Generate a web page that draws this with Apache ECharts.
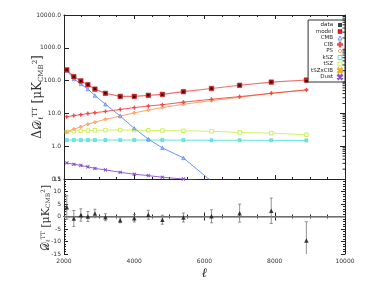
<!DOCTYPE html>
<html><head><meta charset="utf-8">
<script src="https://cdn.jsdelivr.net/npm/echarts@6/dist/echarts.min.js"></script>
<style>html,body{margin:0;padding:0;background:#fff}#c{width:374px;height:299px}</style>
</head><body><div id="c"></div>
<script>
var ell = [2080,2280,2480,2680,2880,3180,3600,4000,4400,4800,5400,6200,7000,7900,8900];
var dataVals = [214,130,97,75,56,41,32,32,36,37,45.5,57,71,90,96];
var model = [212,132,98,75,55,41,33,33,35.5,38,46,57.5,72,90,104];
var cmb = [205,112,79,55,35,19,8.3,3.5,1.65,0.89,0.44,0.085,0.02,0.005,0.0012];
var cib = [7.9,8.6,9.1,9.9,10.5,11.5,13.2,15,16.8,18.4,22,27,32.5,41,52];
var ps = [2.7,3.3,3.9,4.7,5.4,6.6,8.3,10.4,12.6,15,19,24.5,31,41,52];
var ksz = [1.54,1.54,1.54,1.54,1.54,1.54,1.54,1.54,1.54,1.54,1.53,1.52,1.52,1.51,1.5];
var tsz = [2.75,2.9,2.95,3.0,3.05,3.1,3.1,3.1,3.05,3.0,2.95,2.85,2.63,2.5,2.24];
var tszcib = [];
var dust = [0.31,0.28,0.26,0.235,0.21,0.19,0.16,0.14,0.127,0.113,0.1,0.085,0.075,0.065,0.055];
var resid = [3.7,-0.8,0.6,0.0,1.2,-0.3,-1.5,-0.7,0.7,-1.3,-0.4,0.1,1.35,2.3,-9.6];
var residErr = [4.8,3.2,2.5,2.0,1.7,1.4,1.0,1.5,1.8,1.8,1.8,2.6,3.6,5.1,7.5];

function pairs(v){ return v.map(function(y,i){ return [ell[i], y]; }); }
var PLUS = 'path://M0,3.5h8v1h-8zM3.5,0h1v8h-1z';
var CROSS = 'path://M0,0.8L0.8,0L8,7.2L7.2,8zM7.2,0L8,0.8L0.8,8L0,7.2z';
var TXT = '#333';
var ax = {lineStyle:{color:'#222',width:1}};
function lineSeries(name,vals,color,symbol,size,extra){
  var s = {name:name,type:'line',xAxisIndex:0,yAxisIndex:0,data:pairs(vals),
    symbol:symbol,symbolSize:size,showSymbol:true,clip:true,
    lineStyle:{color:color,width:0.9},itemStyle:{color:color,borderColor:color,borderWidth:0.8},
    emphasis:{disabled:true},animation:false,z:3};
  if(extra) for(var k in extra) s[k]=extra[k];
  return s;
}
var minorTicks = [];
for (var d=-1; d<4; d++){ for (var m=2; m<10; m++){ minorTicks.push(m*Math.pow(10,d)); } }
function xAx(grid,pos,labels){
  var a = {gridIndex:grid,type:'value',min:2000,max:10000,interval:2000,position:pos,axisLine:ax,
     axisTick:{inside:true,length:4,lineStyle:{color:'#222'}},minorTick:{show:true,splitNumber:4,length:2,lineStyle:{color:'#222'}},
     axisLabel:{show:false},splitLine:{show:false}};
  if(labels){
    a.axisLabel = {show:true,fontSize:6,color:TXT,fontFamily:'DejaVu Sans',margin:4,formatter:function(v){return String(v);}};
    a.name='ℓ'; a.nameLocation='middle'; a.nameGap=13;
    a.nameTextStyle={fontSize:13,fontStyle:'italic',fontFamily:'DejaVu Serif',color:'#222'};
  }
  return a;
}

var chart = echarts.init(document.getElementById('c'), null, {renderer:'canvas'});
var option = {
  animation:false,
  backgroundColor:'#fff',
  grid:[{left:64,right:29,top:15,height:164},{left:64,right:29,top:179,height:75}],
  xAxis:[xAx(0,'bottom',false),xAx(0,'top',false),xAx(1,'bottom',true),xAx(1,'top',false)],
  yAxis:[
    {gridIndex:0,type:'log',logBase:10,min:0.1,max:10000,position:'left',axisLine:ax,
     axisTick:{inside:true,length:5,lineStyle:{color:'#222'}},
     axisLabel:{fontSize:6,color:TXT,fontFamily:'DejaVu Sans',margin:3,formatter:function(v){return Number(v).toFixed(1);}},
     splitLine:{show:false}},
    {gridIndex:0,type:'log',logBase:10,min:0.1,max:10000,position:'right',axisLine:ax,
     axisTick:{inside:true,length:5,lineStyle:{color:'#222'}},axisLabel:{show:false},splitLine:{show:false}},
    {gridIndex:1,type:'value',min:-15,max:15,interval:5,position:'left',axisLine:ax,
     axisTick:{inside:true,length:4,lineStyle:{color:'#222'}},minorTick:{show:true,splitNumber:5,length:2,lineStyle:{color:'#222'}},
     axisLabel:{fontSize:6,color:TXT,fontFamily:'DejaVu Sans',margin:3},splitLine:{show:false}},
    {gridIndex:1,type:'value',min:-15,max:15,interval:5,position:'right',axisLine:ax,
     axisTick:{inside:true,length:4,lineStyle:{color:'#222'}},minorTick:{show:true,splitNumber:5,length:2,lineStyle:{color:'#222'}},
     axisLabel:{show:false},splitLine:{show:false}}
  ],
  legend:{
    orient:'vertical',right:29,top:20,align:'right',
    itemWidth:4,itemHeight:4,itemGap:0.5,
    backgroundColor:'#fff',borderColor:'#333',borderWidth:1,borderRadius:0,padding:[2,2,2,3],
    textStyle:{fontSize:5.5,lineHeight:5.5,color:'#222',fontFamily:'DejaVu Sans'},
    selectedMode:false,
    data:[
      {name:'data',icon:'rect',itemStyle:{color:'#111'}},
      {name:'model',icon:'rect',itemStyle:{color:'#e02020',borderColor:'#801010',borderWidth:0.5}},
      {name:'CMB',icon:'triangle',itemStyle:{color:'#fff',borderColor:'#4a7cf0',borderWidth:0.8}},
      {name:'CIB',icon:PLUS,itemStyle:{color:'#f03030'}},
      {name:'PS',icon:'diamond',itemStyle:{color:'#fff',borderColor:'#ff8c40',borderWidth:0.8}},
      {name:'kSZ',icon:'rect',itemStyle:{color:'#fff',borderColor:'#30d8d0',borderWidth:0.8}},
      {name:'tSZ',icon:'rect',itemStyle:{color:'#fff',borderColor:'#c4ec30',borderWidth:0.8}},
      {name:'tSZxCIB',icon:CROSS,itemStyle:{color:'#f0b020'}},
      {name:'Dust',icon:CROSS,itemStyle:{color:'#8040c0'}}
    ]
  },
  graphic:[
    {type:'text',x:38,y:97,rotation:Math.PI/2,
     style:{text:'{a|Δ𝒟}{s|ℓ}{p|TT}{a| [μK}{s|CMB}{p|2}{a|]}',align:'center',verticalAlign:'middle',
      rich:{a:{fontSize:12,fontFamily:'DejaVu Serif',fill:'#333'},
            s:{fontSize:7,fontFamily:'DejaVu Serif',fill:'#333',verticalAlign:'bottom',padding:[6,0,0,0]},
            p:{fontSize:7,fontFamily:'DejaVu Serif',fill:'#333',verticalAlign:'top',padding:[0,0,6,0]}}}},
    {type:'text',x:46,y:218,rotation:Math.PI/2,
     style:{text:'{a|𝒟}{s|ℓ}{p|TT}{a| [μK}{s|CMB}{p|2}{a|]}',align:'center',verticalAlign:'middle',
      rich:{a:{fontSize:11,fontFamily:'DejaVu Serif',fill:'#333'},
            s:{fontSize:6,fontFamily:'DejaVu Serif',fill:'#333',verticalAlign:'bottom',padding:[5,0,0,0]},
            p:{fontSize:6,fontFamily:'DejaVu Serif',fill:'#333',verticalAlign:'top',padding:[0,0,5,0]}}}}
  ],
  series:[
    lineSeries('Dust',dust,'#8a50c8',CROSS,3),
    lineSeries('kSZ',ksz,'#50e0d8','rect',3,{itemStyle:{color:'#70e8e0',borderColor:'#40d8d0',borderWidth:0.6}}),
    lineSeries('tSZ',tsz,'#cdef50','rect',3.5,{itemStyle:{color:'#fff',borderColor:'#c4ec30',borderWidth:0.8}}),
    lineSeries('tSZxCIB',tszcib,'#f0b020',CROSS,3),
    lineSeries('PS',ps,'#ff9858','diamond',3.5,{itemStyle:{color:'#ffb080',borderColor:'#ff8c40',borderWidth:0.6}}),
    lineSeries('CIB',cib,'#f04848',PLUS,3.5),
    lineSeries('CMB',cmb,'#5a88f0','triangle',3.5,{itemStyle:{color:'#a8c0f8',borderColor:'#4a7cf0',borderWidth:0.6}}),
    lineSeries('model',model,'#f06060','rect',4.5,{itemStyle:{color:'#d82020',borderColor:'#901010',borderWidth:0.5},lineStyle:{color:'#f07070',width:1.1}}),
    {name:'data',type:'scatter',xAxisIndex:0,yAxisIndex:0,data:pairs(dataVals),symbol:'rect',symbolSize:2.6,
     itemStyle:{color:'#2a0000'},z:5,animation:false},
    {type:'custom',xAxisIndex:0,yAxisIndex:0,data:minorTicks.map(function(v){return [10000,v];}),silent:true,z:6,
     renderItem:function(params,api){
       var p = api.coord([api.value(0),api.value(1)]);
       return {type:'line',shape:{x1:p[0],y1:p[1],x2:p[0]-2.5,y2:p[1]},style:{stroke:'#222',lineWidth:1}};
     }},
    {type:'custom',xAxisIndex:2,yAxisIndex:2,data:ell.map(function(x,i){return [x,resid[i]-residErr[i],resid[i]+residErr[i]];}),
     z:3,silent:true,clip:true,
     renderItem:function(params,api){
       var lo = api.coord([api.value(0),api.value(1)]);
       var hi = api.coord([api.value(0),api.value(2)]);
       var st = {stroke:'#777',lineWidth:0.8};
       return {type:'group',children:[
         {type:'line',shape:{x1:lo[0],y1:lo[1],x2:hi[0],y2:hi[1]},style:st},
         {type:'line',shape:{x1:lo[0]-1.5,y1:lo[1],x2:lo[0]+1.5,y2:lo[1]},style:st},
         {type:'line',shape:{x1:hi[0]-1.5,y1:hi[1],x2:hi[0]+1.5,y2:hi[1]},style:st}
       ]};
     }},
    {name:'resid',type:'scatter',xAxisIndex:2,yAxisIndex:2,data:pairs(resid),symbol:'triangle',symbolSize:4.5,
     itemStyle:{color:'#111'},z:5,animation:false,
     markLine:{silent:true,symbol:'none',label:{show:false},lineStyle:{color:'#888',width:1.5,type:'solid'},data:[{yAxis:0}],animation:false}}
  ]
};
chart.setOption(option);
</script></body></html>
